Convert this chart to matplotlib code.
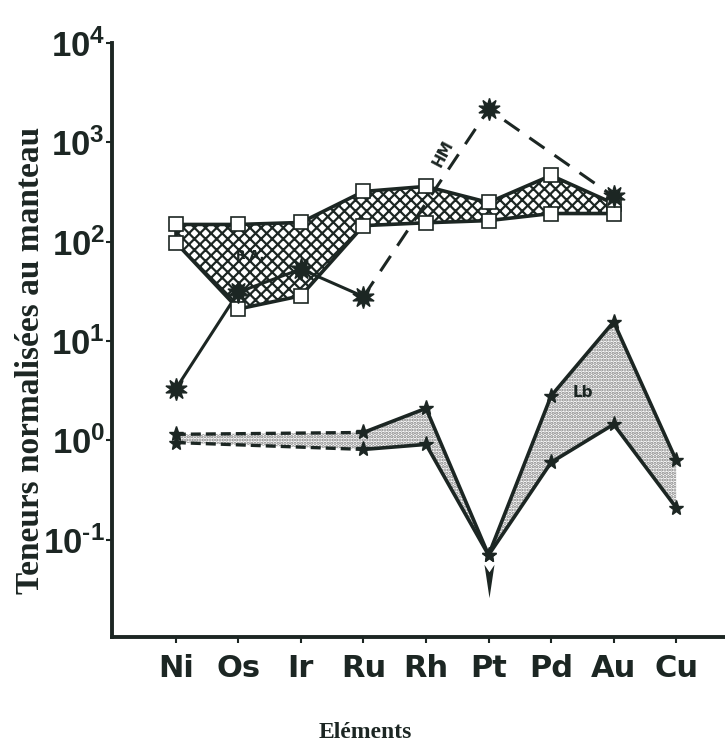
import matplotlib
matplotlib.use('Agg')
import matplotlib.pyplot as plt
import numpy as np
from matplotlib.path import Path

#------------------------------------------------------------------------#
# Data
#------------------------------------------------------------------------#
elements = ['Ni', 'Os', 'Ir', 'Ru', 'Rh', 'Pt', 'Pd', 'Au', 'Cu']

# R.A. band (squares, crosshatched) : Ni..Au
ra_upper = [149, 149, 156, 320, 360, 248, 464, 242]
ra_lower = [98, 21, 28.5, 145, 155, 163, 192, 192]

# HM (asterisks) : Ni, Os, Ir, Ru solid then Ru, Pt, Au dashed
hm_x_solid = [0, 1, 2, 3]
hm_solid = [3.3, 31, 53, 28]
hm_x_dash = [3, 5, 7]
hm_dash = [28, 2150, 285]

# Lb band (stars, stippled) : Ni, Ru, Rh, Pt, Pd, Au, Cu
lb_x = [0, 3, 4, 5, 6, 7, 8]
lb_upper = [1.15, 1.2, 2.1, 0.07, 2.8, 15.6, 0.63]
lb_lower = [0.95, 0.81, 0.91, 0.07, 0.60, 1.45, 0.21]
pt_arrow = 0.038

ink = '#1c2623'
cond = dict(family='DejaVu Sans', fontweight='bold')

plt.rcParams['mathtext.fontset'] = 'custom'
plt.rcParams['mathtext.rm'] = 'Liberation Sans:bold'
plt.rcParams['mathtext.it'] = 'Liberation Sans:bold'
plt.rcParams['mathtext.bf'] = 'Liberation Sans:bold'
plt.rcParams['hatch.linewidth'] = 1.6

fig = plt.figure(figsize=(7.25, 7.49), dpi=100)
ax = fig.add_axes([0.1545, 0.1495, 0.8455, 0.7931])
ax.set_yscale('log')
ax.set_xlim(-1.02, 8.78)
ax.set_ylim(10**-1.98, 10**4)

#------------------------------------------------------------------------#
# R.A. crosshatched band
#------------------------------------------------------------------------#
ra_x = np.arange(len(ra_upper))
ax.fill_between(ra_x, ra_lower, ra_upper, facecolor='white', edgecolor=ink,
                hatch='xxx', linewidth=0, zorder=1)
ax.plot(ra_x, ra_upper, color=ink, lw=2.6, zorder=2)
ax.plot(ra_x, ra_lower, color=ink, lw=2.6, zorder=2)
ax.plot([0, 0], [ra_lower[0], ra_upper[0]], color=ink, lw=2.6, zorder=2)
ax.plot(ra_x, ra_upper, 's', ms=10, mfc='white', mec=ink, mew=1.2, zorder=5)
ax.plot(ra_x, ra_lower, 's', ms=10, mfc='white', mec=ink, mew=1.2, zorder=5)

#------------------------------------------------------------------------#
# Lb stippled band
#------------------------------------------------------------------------#
ax.fill_between(lb_x, lb_lower, lb_upper, facecolor='white', edgecolor='#808080',
                hatch='.....', linewidth=0, zorder=1)
ax.plot(lb_x[:2], lb_upper[:2], color=ink, lw=2.4, ls=(0, (3, 1.5)), zorder=2)
ax.plot(lb_x[:2], lb_lower[:2], color=ink, lw=2.4, ls=(0, (3, 1.5)), zorder=2)
ax.plot(lb_x[1:], lb_upper[1:], color=ink, lw=2.6, zorder=2)
ax.plot(lb_x[1:], lb_lower[1:], color=ink, lw=2.6, zorder=2)
ax.plot(lb_x, lb_upper, '*', ms=11, color=ink, zorder=5)
ax.plot(lb_x, lb_lower, '*', ms=11, color=ink, zorder=5)

arrow = Path([(0, -1), (-0.3, 1), (0, 0.55), (0.3, 1), (0, -1)],
             [Path.MOVETO, Path.LINETO, Path.LINETO, Path.LINETO, Path.CLOSEPOLY])
ax.plot([5], [pt_arrow], marker=arrow, ms=24, color=ink, mew=0, zorder=5)

#------------------------------------------------------------------------#
# HM
#------------------------------------------------------------------------#
ax.plot(hm_x_solid, hm_solid, color=ink, lw=2.2, zorder=3)
ax.plot(hm_x_dash, hm_dash, color=ink, lw=2.2, ls=(0, (6, 4)), zorder=3)
ax.plot(hm_x_solid + hm_x_dash[1:], hm_solid + hm_dash[1:], ls='none',
        marker=(10, 1, 0), ms=16, color=ink, zorder=6)

ax.text(4.27, 776, 'HM', rotation=62, fontsize=11, color=ink,
        ha='center', va='center', **cond)
ax.text(1.2, 72, 'R.A.', fontsize=9, color=ink, ha='center', va='center',
        zorder=7, **cond)
ax.text(6.5, 3.05, 'Lb', fontsize=11, color=ink, ha='center', va='center',
        zorder=7, **cond)

#------------------------------------------------------------------------#
# Axes
#------------------------------------------------------------------------#
for s in ['top', 'right']:
    ax.spines[s].set_visible(False)
for s in ['left', 'bottom']:
    ax.spines[s].set_linewidth(2.8)
    ax.spines[s].set_color(ink)

ax.set_yticks([10.0**k for k in range(-1, 5)])
ax.set_yticklabels([r'$10^{\text{-}1}$'] + ['$10^{%d}$' % k for k in range(0, 5)],
                   fontsize=25, color=ink)
ax.minorticks_off()
ax.tick_params(axis='y', length=4, width=1.5, color=ink, pad=1)
ax.set_xticks(range(len(elements)))
ax.set_xticklabels(elements, fontsize=22, color=ink, **cond)
ax.tick_params(axis='x', length=4, width=1.5, color=ink, pad=8)

ax.set_ylabel('Teneurs normalisées au manteau', fontsize=24, fontweight='bold',
              family='Liberation Serif', color=ink)
ax.yaxis.set_label_coords(-0.108, 0.466)
ax.set_xlabel('Eléments', fontsize=17, fontweight='bold',
              family='Liberation Serif', color=ink)
ax.xaxis.set_label_coords(0.413, -0.143)

plt.savefig('out.png', dpi=100)
